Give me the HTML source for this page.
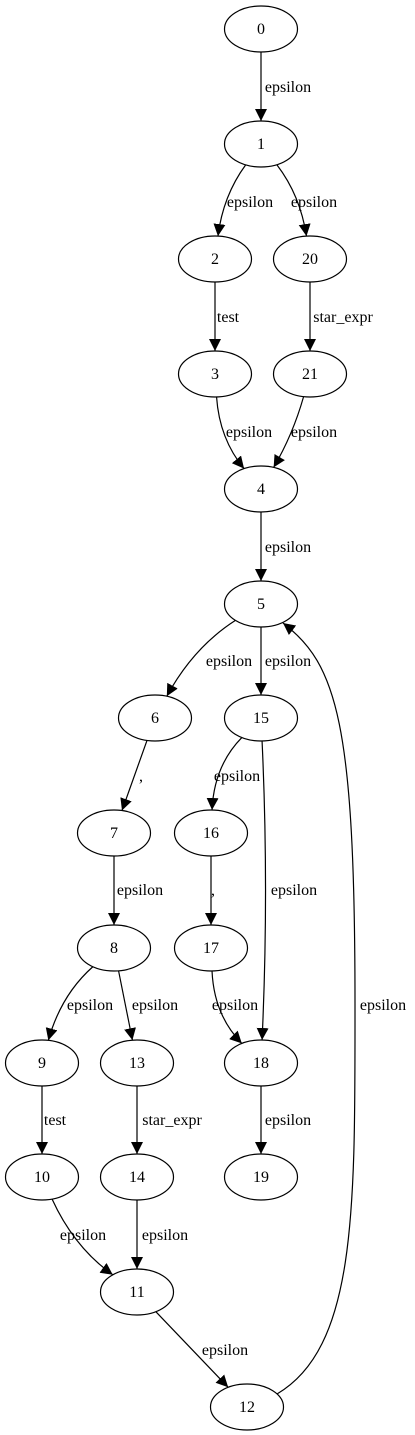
<!DOCTYPE html>
<html><head><meta charset="utf-8"><style>
html,body{margin:0;padding:0;background:#fff;}
svg{display:block;}
text{font-family:"Liberation Serif",serif;font-size:16px;fill:#000;}
</style></head><body>
<svg id="g" width="415" height="1435" viewBox="0 0 415 1435">
<defs><marker id="ah" markerUnits="userSpaceOnUse" markerWidth="12" markerHeight="12" refX="10" refY="5" orient="auto" viewBox="0 0 10 10"><path d="M0,0 L10,5 L0,10 z" fill="#000"/></marker></defs>
</svg>
<script>
const nodeIds=['0','1','2','20','3','21','4','5','6','15','7','16','8','17','9','13','18','10','14','19','11','12'];
const nodeX=[261,261,215,310,215,310,261,261,155,261,114,211,114,211,42,137,261,42,137,261,137,247];
const nodeY=[29,144,259,259,374,374,489,604,718,718,833,833,948,948,1063,1063,1063,1177,1177,1177,1292,1407];
const edgeFrom=['0','1','1','2','20','3','21','4','5','5','6','15','15','7','16','8','8','17','9','13','18','10','14','11'];
const edgeTo=['1','2','20','3','21','4','4','5','6','15','7','16','18','8','17','9','13','18','10','14','19','11','11','12'];
const edgeLabel=['epsilon','epsilon','epsilon','test','star_expr','epsilon','epsilon','epsilon','epsilon','epsilon',',','epsilon','epsilon','epsilon',',','epsilon','epsilon','epsilon','test','star_expr','epsilon','epsilon','epsilon','epsilon'];
const labelX=[288,250,314,228,343,249,314,288,229,288,141,237,294,140,213,90,155,235,55,172,288,83,165,225];
const labelY=[92,207,207,322,322,437,437,552,666,666,781,781,895,895,895,1010,1010,1010,1125,1125,1125,1240,1240,1355];
const edgeBend=[0,8,-8,0,0,10,-4,0,10,0,0,12,-4,0,0,10,0,12,0,0,0,10,0,0];
const RX=36.5,RY=23;
const svg=document.getElementById('g');
const NS='http://www.w3.org/2000/svg';
function pos(id){const i=nodeIds.indexOf(id);return [nodeX[i],nodeY[i]];}
function bnd(c,t){const dx=t[0]-c[0],dy=t[1]-c[1];const k=1/Math.sqrt((dx/RX)**2+(dy/RY)**2);return [c[0]+dx*k,c[1]+dy*k];}
for(let i=0;i<edgeFrom.length;i++){
  const a=pos(edgeFrom[i]),b=pos(edgeTo[i]);
  const dx=b[0]-a[0],dy=b[1]-a[1],L=Math.hypot(dx,dy);
  const cp=[(a[0]+b[0])/2+(-dy/L)*edgeBend[i]*2,(a[1]+b[1])/2+(dx/L)*edgeBend[i]*2];
  const s=bnd(a,cp),e=bnd(b,cp);
  const p=document.createElementNS(NS,'path');
  p.setAttribute('d',`M${s[0]},${s[1]} Q${cp[0]},${cp[1]} ${e[0]},${e[1]}`);
  p.setAttribute('fill','none');p.setAttribute('stroke','#000');p.setAttribute('stroke-width','1.2');
  p.setAttribute('marker-end','url(#ah)');
  
  
  svg.appendChild(p);
  const t=document.createElementNS(NS,'text');
  t.setAttribute('x',labelX[i]);t.setAttribute('y',labelY[i]);t.setAttribute('text-anchor','middle');
  t.textContent=edgeLabel[i];
  
  
  svg.appendChild(t);
}
{
  const a=pos('12'),b=pos('5');
  const p=document.createElementNS(NS,'path');
  p.setAttribute('d',`M${a[0]+30},${a[1]-13} C${a[0]+110},${a[1]-60} ${a[0]+108},${a[1]-200} ${a[0]+108},${b[1]+400} C${a[0]+108},${b[1]+120} ${a[0]+90},${b[1]+60} ${b[0]+22},${b[1]+19}`);
  p.setAttribute('fill','none');p.setAttribute('stroke','#000');p.setAttribute('stroke-width','1.2');
  p.setAttribute('marker-end','url(#ah)');
  
  
  svg.appendChild(p);
  const t=document.createElementNS(NS,'text');
  t.setAttribute('x',383);t.setAttribute('y',1010);t.setAttribute('text-anchor','middle');
  t.textContent='epsilon';
  
  
  svg.appendChild(t);
}
for(let i=0;i<nodeIds.length;i++){
  const e=document.createElementNS(NS,'ellipse');
  e.setAttribute('cx',nodeX[i]);e.setAttribute('cy',nodeY[i]);e.setAttribute('rx',RX);e.setAttribute('ry',RY);
  e.setAttribute('fill','#fff');e.setAttribute('stroke','#000');e.setAttribute('stroke-width','1.2');
  
  
  svg.appendChild(e);
  const t=document.createElementNS(NS,'text');
  t.setAttribute('x',nodeX[i]);t.setAttribute('y',nodeY[i]+5);t.setAttribute('text-anchor','middle');
  t.textContent=nodeIds[i];
  
  
  svg.appendChild(t);
}
</script>
</body></html>
